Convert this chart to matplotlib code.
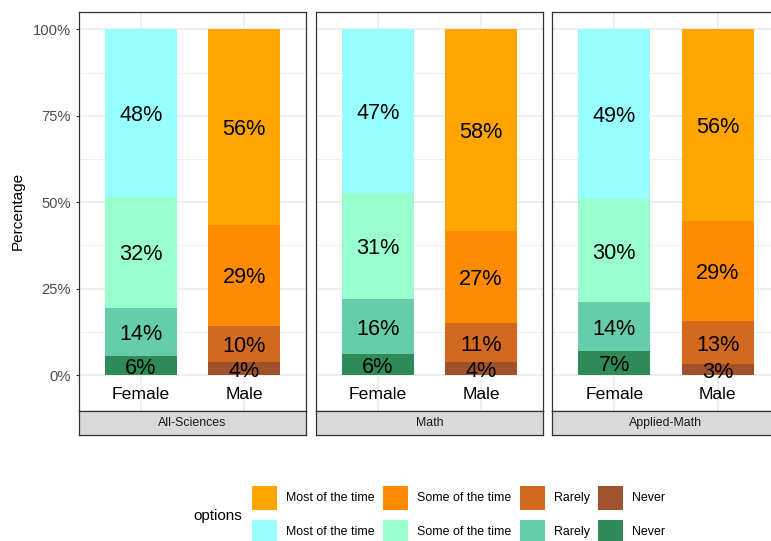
import matplotlib
matplotlib.use("Agg")
import matplotlib.pyplot as plt
from matplotlib.patches import Rectangle
from matplotlib.ticker import FixedLocator, PercentFormatter

plt.rcParams['font.family'] = ['Liberation Sans', 'DejaVu Sans']

# ---- data (percent) ----
subjects = ['All-Sciences', 'Math', 'Applied-Math']
genders = ['Female', 'Male']
options = ['Never', 'Rarely', 'Some of the time', 'Most of the time']  # bottom -> top

female_all = [5.5, 13.8, 32.3, 48.4]
male_all = [3.8, 10.4, 29.3, 56.5]
female_math = [6.1, 15.8, 30.8, 47.3]
male_math = [3.8, 11.2, 26.7, 58.3]
female_applied = [7.0, 14.0, 29.8, 49.2]
male_applied = [3.1, 12.6, 28.8, 55.5]

data = {
    'All-Sciences': [female_all, male_all],
    'Math': [female_math, male_math],
    'Applied-Math': [female_applied, male_applied],
}

female_colors = ['#2E8B57', '#66CDAA', '#99FFCC', '#97FFFF']
male_colors = ['#A0522D', '#D2691E', '#FF8C00', '#FFA500']
gender_colors = [female_colors, male_colors]

W, H = 771, 541
fig = plt.figure(figsize=(W / 100, H / 100), dpi=100)

panel_lefts = [79, 315.7, 552.3]
panel_w = 227.3
panel_top, panel_bot = 12, 410.7
strip_bot = 435
border_col = '#333333'

for i, subj in enumerate(subjects):
    l = panel_lefts[i]
    ax = fig.add_axes([l / W, (H - panel_bot) / H, panel_w / W, (panel_bot - panel_top) / H])
    ax.set_xlim(0.4, 2.6)
    ax.set_ylim(-0.103, 1.05)
    ax.set_axisbelow(True)
    ax.yaxis.set_major_locator(FixedLocator([0, 0.25, 0.5, 0.75, 1.0]))
    ax.yaxis.set_minor_locator(FixedLocator([0.125, 0.375, 0.625, 0.875]))
    ax.xaxis.set_major_locator(FixedLocator([1, 2]))
    ax.grid(which='major', color='#EBEBEB', lw=1.1)
    ax.grid(which='minor', axis='y', color='#EBEBEB', lw=0.55)
    ax.tick_params(axis='x', which='both', length=0, labelbottom=False)
    ax.tick_params(axis='y', which='minor', length=0)
    if i == 0:
        ax.yaxis.set_major_formatter(PercentFormatter(1.0, decimals=0))
        ax.tick_params(axis='y', which='major', length=2.5, width=0.8, color=border_col,
                       labelsize=10.6, labelcolor='#4D4D4D', pad=3.5)
    else:
        ax.tick_params(axis='y', which='both', length=0, labelleft=False)
    for s in ax.spines.values():
        s.set_color(border_col)
        s.set_linewidth(0.9)

    for g, gname in enumerate(genders):
        vals = data[subj][g]
        bottom = 0.0
        for k, v in enumerate(vals):
            frac = v / 100.0
            ax.bar(g + 1, frac, width=0.695, bottom=bottom, color=gender_colors[g][k],
                   linewidth=0, zorder=2)
            ax.text(g + 1, bottom + frac / 2, f"{round(v)}%", ha='center',
                    va='center_baseline', fontsize=15.6, color='black', zorder=3)
            bottom += frac
        ax.text(g + 1, -0.052, gname, ha='center', va='center_baseline', fontsize=12.6,
                color='black', zorder=3)

    # strip
    sax = fig.add_axes([l / W, (H - strip_bot) / H, panel_w / W, (strip_bot - panel_bot) / H])
    sax.set_xlim(0, 1)
    sax.set_ylim(0, 1)
    sax.set_facecolor('#D9D9D9')
    sax.set_xticks([])
    sax.set_yticks([])
    for s in sax.spines.values():
        s.set_color(border_col)
        s.set_linewidth(0.9)
    sax.text(0.5, 0.5, subj, ha='center', va='center', fontsize=8.9, color='#1A1A1A')

fig.text(18 / W, (H - 211) / H, 'Percentage', rotation=90, ha='center', va='center',
         fontsize=11, color='black')

# ---- legend (drawn by hand to match ggplot's layout) ----
key_x = [252.3, 383.3, 520.0, 598.3]   # pixel left of each column's key
row_top = [485.7, 520.0]                # pixel top of each row's keys
key_w, key_h = 25.0, 24.3
row_colors = [male_colors, female_colors]
legend_order = [3, 2, 1, 0]
for r in range(2):
    for c, k in enumerate(legend_order):
        x0 = key_x[c]
        y0 = row_top[r]
        fig.patches.append(Rectangle((x0 / W, (H - y0 - key_h) / H), key_w / W, key_h / H,
                                     transform=fig.transFigure, facecolor=row_colors[r][k],
                                     edgecolor='none', figure=fig))
        fig.text((x0 + key_w + 9) / W, (H - y0 - key_h / 2) / H, options[k],
                 ha='left', va='center', fontsize=8.9, color='black')

fig.text(193.3 / W, (H - 516) / H, 'options', ha='left', va='center', fontsize=11,
         color='black')

fig.savefig('out.png', dpi=100)
